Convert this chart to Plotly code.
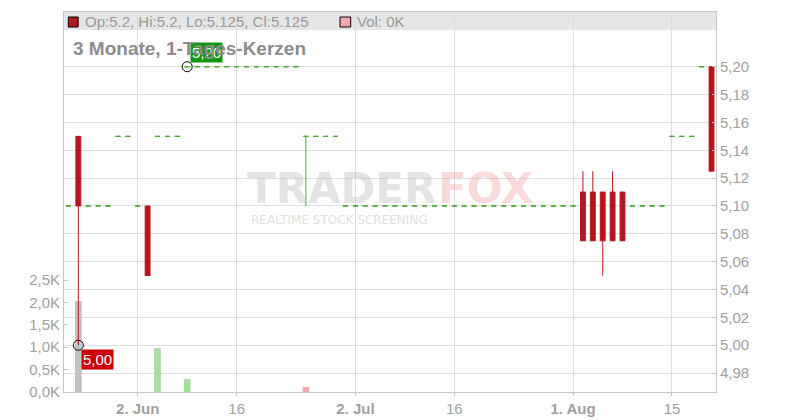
import plotly.graph_objects as go

# ---------------- data ----------------
dates = [
    "2025-05-22", "2025-05-23", "2025-05-26", "2025-05-27", "2025-05-28", "2025-05-29", "2025-05-30",
    "2025-06-02", "2025-06-03", "2025-06-04", "2025-06-05", "2025-06-06",
    "2025-06-09", "2025-06-10", "2025-06-11", "2025-06-12", "2025-06-13",
    "2025-06-16", "2025-06-17", "2025-06-18", "2025-06-19", "2025-06-20",
    "2025-06-23", "2025-06-24", "2025-06-25", "2025-06-26", "2025-06-27",
    "2025-06-30", "2025-07-01", "2025-07-02", "2025-07-03", "2025-07-04",
    "2025-07-07", "2025-07-08", "2025-07-09", "2025-07-10", "2025-07-11",
    "2025-07-14", "2025-07-15", "2025-07-16", "2025-07-17", "2025-07-18",
    "2025-07-21", "2025-07-22", "2025-07-23", "2025-07-24", "2025-07-25",
    "2025-07-28", "2025-07-29", "2025-07-30", "2025-07-31", "2025-08-01",
    "2025-08-04", "2025-08-05", "2025-08-06", "2025-08-07", "2025-08-08",
    "2025-08-11", "2025-08-12", "2025-08-13", "2025-08-14", "2025-08-15",
    "2025-08-18", "2025-08-19", "2025-08-20", "2025-08-21",
]

close = [
    5.10, 5.10, 5.10, 5.10, 5.10, 5.15, 5.15,
    5.10, 5.05, 5.15, 5.15, 5.15,
    5.20, 5.20, 5.20, 5.20, 5.20,
    5.20, 5.20, 5.20, 5.20, 5.20,
    5.20, 5.20, 5.15, 5.15, 5.15,
    5.15, 5.10, 5.10, 5.10, 5.10,
    5.10, 5.10, 5.10, 5.10, 5.10,
    5.10, 5.10, 5.10, 5.10, 5.10,
    5.10, 5.10, 5.10, 5.10, 5.10,
    5.10, 5.10, 5.10, 5.10, 5.10,
    5.075, 5.075, 5.075, 5.075, 5.075,
    5.10, 5.10, 5.10, 5.10, 5.15,
    5.15, 5.15, 5.20, 5.125,
]

# days that are not flat: date -> (open, high, low)
ohl = {
    "2025-05-23": (5.15, 5.15, 5.00),
    "2025-06-03": (5.10, 5.10, 5.05),
    "2025-06-25": (5.15, 5.15, 5.10),
    "2025-08-04": (5.11, 5.125, 5.075),
    "2025-08-05": (5.11, 5.125, 5.075),
    "2025-08-06": (5.11, 5.11, 5.05),
    "2025-08-07": (5.11, 5.125, 5.075),
    "2025-08-08": (5.11, 5.11, 5.075),
    "2025-08-21": (5.20, 5.20, 5.125),
}

volume = {
    "2025-05-23": 2030,
    "2025-06-04": 980,
    "2025-06-09": 290,
    "2025-06-25": 110,
}
volume_kind = {
    "2025-05-23": "neutral",
    "2025-06-04": "up",
    "2025-06-09": "up",
    "2025-06-25": "down",
}

price_ticks = [4.98, 5.00, 5.02, 5.04, 5.06, 5.08, 5.10, 5.12, 5.14, 5.16, 5.18, 5.20]
vol_ticks = [0, 500, 1000, 1500, 2000, 2500]
vol_tick_labels = ["0,0K", "0,5K", "1,0K", "1,5K", "2,0K", "2,5K"]
x_tick_dates = ["2025-06-02", "2025-06-16", "2025-07-02", "2025-07-16", "2025-08-01", "2025-08-15"]
x_tick_labels = ["<b>2. Jun</b>", "16", "<b>2. Jul</b>", "16", "<b>1. Aug</b>", "15"]

# ---------------- styles ----------------
RED = "#b3161b"
GREEN = "#46a82e"
VOL_COLORS = {"neutral": "#c2c2c2", "up": "#a9dca2", "down": "#f0a8b1"}
FONT = "Liberation Sans, Arial, sans-serif"
LABEL_GRAY = "#a0a0a0"
GRID = "#dddddd"
AXIS = "#c4c4c4"

opens = [ohl[d][0] if d in ohl else c for d, c in zip(dates, close)]
highs = [ohl[d][1] if d in ohl else c for d, c in zip(dates, close)]
lows = [ohl[d][2] if d in ohl else c for d, c in zip(dates, close)]

red_idx = [i for i in range(len(dates)) if close[i] < opens[i]]
green_idx = [i for i in range(len(dates)) if close[i] >= opens[i]]

fig = go.Figure()

# volume bars (base axis, left)
vol_vals = [volume.get(d, 0) for d in dates]
vol_cols = [VOL_COLORS[volume_kind.get(d, "neutral")] for d in dates]
fig.add_trace(go.Bar(
    x=dates, y=vol_vals, marker=dict(color=vol_cols, line=dict(width=0)),
    width=0.68, yaxis="y", hoverinfo="skip",
))

# flat / up candles (green)
fig.add_trace(go.Candlestick(
    x=[dates[i] for i in green_idx],
    open=[opens[i] for i in green_idx], high=[highs[i] for i in green_idx],
    low=[lows[i] for i in green_idx], close=[close[i] for i in green_idx],
    increasing=dict(line=dict(color=GREEN, width=1), fillcolor=GREEN),
    decreasing=dict(line=dict(color=GREEN, width=1), fillcolor=GREEN),
    yaxis="y2", hoverinfo="skip",
))

# down candles (red)
fig.add_trace(go.Candlestick(
    x=[dates[i] for i in red_idx],
    open=[opens[i] for i in red_idx], high=[highs[i] for i in red_idx],
    low=[lows[i] for i in red_idx], close=[close[i] for i in red_idx],
    increasing=dict(line=dict(color=RED, width=1), fillcolor=RED),
    decreasing=dict(line=dict(color=RED, width=1), fillcolor=RED),
    yaxis="y2", hoverinfo="skip",
))

# min / max markers
lo_i = min(range(len(dates)), key=lambda i: lows[i])
hi_i = max(range(len(dates)), key=lambda i: highs[i])
fig.add_trace(go.Scatter(
    x=[dates[lo_i], dates[hi_i]], y=[lows[lo_i], highs[hi_i]], mode="markers",
    marker=dict(symbol="circle-open", size=10, color="black", line=dict(width=1)),
    yaxis="y2", hoverinfo="skip",
))

def fmt(v):
    return f"{v:.2f}".replace(".", ",")

annotations = [
    # watermark
    dict(xref="paper", yref="paper", x=0.425, y=0.535, xanchor="center", yanchor="middle",
         text="TRADER",
         font=dict(family="DejaVu Sans", size=42, weight=700, color="rgba(170,170,170,0.33)"),
         showarrow=False),
    dict(xref="paper", yref="paper", x=0.646, y=0.535, xanchor="center", yanchor="middle",
         text="FOX",
         font=dict(family="DejaVu Sans", size=42, weight=700, color="rgba(238,110,110,0.27)"),
         showarrow=False),
    dict(xref="paper", yref="paper", x=0.422, y=0.452, xanchor="center", yanchor="middle",
         text="REALTIME STOCK SCREENING",
         font=dict(family="DejaVu Sans", size=12, color="rgba(170,170,170,0.4)"),
         showarrow=False),
    # min / max labels
    dict(x=dates[lo_i], y=lows[lo_i], xref="x", yref="y2", text=fmt(lows[lo_i]),
         xanchor="left", yanchor="top", xshift=3, yshift=-4, showarrow=False,
         bgcolor="#cc0000", borderpad=1, font=dict(family=FONT, size=15, color="white")),
    dict(x=dates[hi_i], y=highs[hi_i], xref="x", yref="y2", text=fmt(highs[hi_i]),
         xanchor="left", yanchor="bottom", xshift=3, yshift=4, showarrow=False,
         bgcolor="#149614", borderpad=1, font=dict(family=FONT, size=15, color="white")),
    # header texts
    dict(xref="paper", yref="paper", x=0.029, y=0.9737, xanchor="left", yanchor="middle",
         text=f"Op:{opens[-1]:g}, Hi:{highs[-1]:g}, Lo:{lows[-1]:g}, Cl:{close[-1]:g}",
         font=dict(family=FONT, size=15, color="#999999"), showarrow=False),
    dict(xref="paper", yref="paper", x=0.446, y=0.9737, xanchor="left", yanchor="middle",
         text=f"Vol: {volume.get(dates[-1], 0) // 1000}K",
         font=dict(family=FONT, size=15, color="#999999"), showarrow=False),
    # title
    dict(xref="paper", yref="paper", x=0.0105, y=0.905, xanchor="left", yanchor="middle",
         text="<b>3 Monate, 1-Tages-Kerzen</b>",
         font=dict(family=FONT, size=19, color="#8c8c8c"), showarrow=False),
]

shapes = [
    dict(type="rect", xref="paper", yref="paper", x0=0, x1=1, y0=0.9526, y1=1,
         fillcolor="#e6e6e6", line=dict(width=0), layer="below"),
    dict(type="rect", xref="paper", yref="paper", x0=0.0066, x1=0.0217, y0=0.9605, y1=0.9868,
         fillcolor=RED, line=dict(color="black", width=1)),
    dict(type="rect", xref="paper", yref="paper", x0=0.4233, x1=0.4397, y0=0.9605, y1=0.9868,
         fillcolor=VOL_COLORS["down"], line=dict(color="black", width=1)),
]

tickfont = dict(family=FONT, size=15, color=LABEL_GRAY)

# the page body has an 8px default margin; the figure is sized to fill the rest
fig.update_layout(
    width=792, height=412,
    margin=dict(l=56, r=84, t=4, b=28, pad=0, autoexpand=False),
    paper_bgcolor="white", plot_bgcolor="white",
    showlegend=False,
    annotations=annotations,
    shapes=shapes,
    xaxis=dict(
        type="category", categoryorder="array", categoryarray=dates,
        range=[-0.45, 65.45], automargin=False,
        tickvals=x_tick_dates, ticktext=x_tick_labels,
        showgrid=True, gridcolor=GRID, gridwidth=1,
        showline=True, linecolor=AXIS, mirror=True,
        ticks="outside", ticklen=3, tickcolor=AXIS,
        tickfont=tickfont,
        rangeslider=dict(visible=False),
    ),
    yaxis=dict(
        side="left", range=[0, 8482], automargin=False,
        tickvals=vol_ticks, ticktext=vol_tick_labels,
        showgrid=False, zeroline=False,
        showline=True, linecolor=AXIS,
        ticks="inside", ticklen=4, tickcolor=AXIS,
        tickfont=tickfont,
    ),
    yaxis2=dict(
        overlaying="y", side="right", range=[4.9664, 5.2393], automargin=False,
        tickvals=price_ticks, ticktext=[fmt(v) for v in price_ticks],
        showgrid=True, gridcolor=GRID, gridwidth=1, zeroline=False,
        showline=True, linecolor=AXIS,
        ticks="inside", ticklen=4, tickcolor=AXIS,
        tickfont=tickfont,
    ),
)

fig.write_html("out.html")
